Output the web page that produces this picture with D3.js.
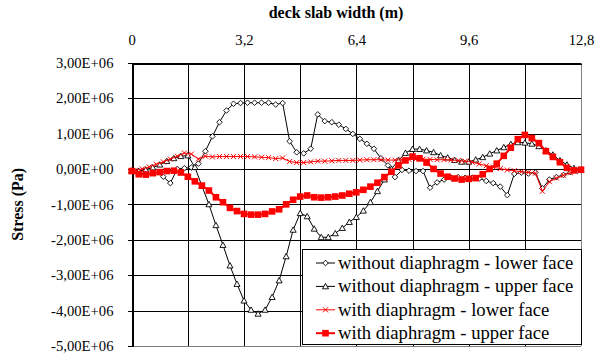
<!DOCTYPE html>
<html><head><meta charset="utf-8">
<script src="https://cdn.jsdelivr.net/npm/d3@7/dist/d3.min.js"></script>
<style>
body{margin:0;background:#fff}
svg{display:block}
</style>
</head><body>
<svg id="c" width="605" height="356"></svg>
<script>
// ---- data (stress values in units of 1E+06 Pa) ----
// upper-face nodes (every 0.2 m)
const xUpper = [0,0.2,0.4,0.6,0.8,1.0,1.2,1.4,1.6,1.8,2.0,2.2,2.4,2.6,2.8,3.0,3.2,3.4,3.6,3.8,4.0,4.2,4.4,4.6,4.8,5.0,5.2,5.4,5.6,5.8,6.0,6.2,6.4,6.6,6.8,7.0,7.2,7.4,7.6,7.8,8.0,8.2,8.4,8.6,8.8,9.0,9.2,9.4,9.6,9.8,10.0,10.2,10.4,10.6,10.8,11.0,11.2,11.4,11.6,11.8,12.0,12.2,12.4,12.6,12.8];
// lower-face nodes (offset 0.1 m)
const xLower = [0.1,0.3,0.5,0.7,0.9,1.1,1.3,1.5,1.7,1.9,2.1,2.3,2.5,2.7,2.9,3.1,3.3,3.5,3.7,3.9,4.1,4.3,4.5,4.7,4.9,5.1,5.3,5.5,5.7,5.9,6.1,6.3,6.5,6.7,6.9,7.1,7.3,7.5,7.7,7.9,8.1,8.3,8.5,8.7,8.9,9.1,9.3,9.5,9.7,9.9,10.1,10.3,10.5,10.7,10.9,11.1,11.3,11.5,11.7,11.9,12.1,12.3,12.5,12.7];

const withoutLower = [-0.07,-0.06,-0.06,-0.08,-0.22,-0.40,0.00,0.02,0.04,0.15,0.50,0.92,1.32,1.65,1.84,1.86,1.87,1.87,1.87,1.87,1.82,1.86,0.78,0.47,0.44,0.57,1.54,1.35,1.32,1.25,1.13,0.99,0.85,0.71,0.57,0.30,0.10,-0.23,-0.03,-0.05,-0.06,-0.06,-0.53,-0.38,-0.30,-0.25,-0.23,-0.25,-0.25,-0.27,-0.34,-0.40,-0.50,-0.74,-0.14,-0.10,-0.13,-0.10,-0.55,-0.30,-0.23,-0.17,-0.09,-0.05];
const withoutUpper = [-0.05,-0.06,-0.02,0.04,0.12,0.22,0.30,0.36,0.38,0.05,-0.48,-1.00,-1.59,-2.15,-2.73,-3.25,-3.72,-3.98,-4.09,-3.98,-3.62,-3.15,-2.47,-1.72,-1.25,-1.34,-1.69,-1.93,-1.93,-1.82,-1.67,-1.50,-1.36,-1.18,-0.94,-0.63,-0.30,0.00,0.24,0.45,0.56,0.56,0.52,0.47,0.38,0.32,0.25,0.20,0.20,0.26,0.33,0.43,0.52,0.61,0.70,0.75,0.74,0.71,0.64,0.52,0.40,0.24,0.12,0.02,-0.03];
const withLower = [-0.04,0.00,0.06,0.13,0.20,0.28,0.36,0.45,0.42,0.28,0.36,0.34,0.35,0.35,0.35,0.35,0.35,0.34,0.33,0.32,0.29,0.31,0.21,0.18,0.18,0.20,0.22,0.22,0.23,0.24,0.24,0.24,0.25,0.26,0.26,0.26,0.25,0.25,0.26,0.27,0.28,0.28,0.27,0.26,0.26,0.25,0.24,0.22,0.19,0.14,0.09,0.05,0.01,-0.03,-0.05,-0.08,-0.10,-0.12,-0.63,-0.36,-0.26,-0.18,-0.11,-0.05];
const withUpper = [-0.06,-0.15,-0.16,-0.12,-0.09,-0.06,-0.05,-0.10,-0.22,-0.35,-0.47,-0.61,-0.80,-0.94,-1.10,-1.19,-1.27,-1.29,-1.29,-1.27,-1.20,-1.14,-1.00,-0.87,-0.78,-0.75,-0.80,-0.81,-0.80,-0.78,-0.75,-0.70,-0.66,-0.59,-0.50,-0.39,-0.23,-0.08,0.10,0.24,0.35,0.30,0.18,0.00,-0.13,-0.22,-0.27,-0.30,-0.28,-0.26,-0.15,0.00,0.15,0.37,0.60,0.84,0.96,0.87,0.73,0.50,0.34,0.19,0.03,-0.04,-0.02];

const seriesNames = ["without diaphragm - lower face","without diaphragm - upper face","with diaphragm - lower face","with diaphragm - upper face"];
const xTickValues = [0,3.2,6.4,9.6,12.8];
const xTickLabels = ["0","3,2","6,4","9,6","12,8"];
const xGridValues = [0,1.6,3.2,4.8,6.4,8.0,9.6,11.2,12.8];
const yTickValues = [3e6,2e6,1e6,0,-1e6,-2e6,-3e6,-4e6,-5e6];
const yTickLabels = ["3,00E+06","2,00E+06","1,00E+06","0,00E+00","-1,00E+06","-2,00E+06","-3,00E+06","-4,00E+06","-5,00E+06"];
const xTitle = "deck slab width (m)";
const yTitle = "Stress (Pa)";

// ---- chart ----
const FONT = '"Liberation Serif"';
const svg = d3.select("#c");
const L = 131.7, R = 581, T = 62.7, B = 346;
const x = d3.scaleLinear().domain([0,12.8]).range([L,R]);
const y = d3.scaleLinear().domain([-5e6,3e6]).range([B,T]);
const px = v => Math.round(v) + 0.5;

svg.append("rect").attr("width",605).attr("height",356).attr("fill","#fff");

const grid = svg.append("g").attr("shape-rendering","crispEdges");
grid.selectAll("line.h").data(yTickValues).join("line")
  .attr("x1",L).attr("x2",R).attr("y1",d=>px(y(d))).attr("y2",d=>px(y(d)))
  .attr("stroke",(d,i)=> i===yTickValues.length-1 ? "#808080" : "#000").attr("stroke-width",1);
grid.selectAll("line.v").data(xGridValues).join("line")
  .attr("y1",T).attr("y2",B).attr("x1",d=>px(x(d))).attr("x2",d=>px(x(d)))
  .attr("stroke",(d,i)=> i===xGridValues.length-1 ? "#808080" : "#000").attr("stroke-width",1);

// y axis
const yAxis = d3.axisLeft(y).tickValues(yTickValues).tickSize(5).tickPadding(14)
  .tickFormat((d,i)=>yTickLabels[i]);
const gy = svg.append("g").attr("transform",`translate(${px(L)},0)`).call(yAxis);
gy.attr("font-family",null).attr("font-size",null);
gy.select(".domain").attr("stroke","#000").attr("shape-rendering","crispEdges");
gy.selectAll(".tick line").attr("stroke","#000").attr("shape-rendering","crispEdges");
gy.selectAll("text").style("font-family",FONT).style("font-size","14.67px").attr("fill","#000");

// x axis (top)
const xAxis = d3.axisTop(x).tickValues(xTickValues).tickSize(0).tickPadding(19)
  .tickFormat((d,i)=>xTickLabels[i]);
const gx = svg.append("g").attr("transform",`translate(0,${px(T)})`).call(xAxis);
gx.attr("font-family",null).attr("font-size",null);
gx.select(".domain").attr("stroke","#000").attr("shape-rendering","crispEdges");
gx.selectAll("text").style("font-family",FONT).style("font-size","14.67px").attr("fill","#000");

// titles
svg.append("text").attr("x",336).attr("y",18).attr("text-anchor","middle")
  .style("font-family",FONT).style("font-size","16px").style("font-weight","bold").attr("fill","#000").text(xTitle);
svg.append("text").attr("transform",`translate(23,${(T+B)/2}) rotate(-90)`).attr("text-anchor","middle")
  .style("font-family",FONT).style("font-size","16px").style("font-weight","bold").attr("fill","#000").text(yTitle);

// markers
const diamond = (s)=>`M0,${-s}L${s},0L0,${s}L${-s},0Z`;
const triangle = (s)=>`M0,${-s}L${s},${s*0.8}L${-s},${s*0.8}Z`;
const cross = (s)=>`M${-s},${-s}L${s},${s}M${-s},${s}L${s},${-s}`;
const square = (s)=>`M${-s},${-s}H${s}V${s}H${-s}Z`;

const series = [
  {name:seriesNames[0], xs:xLower, ys:withoutLower, color:"#000", lw:1, mark:diamond(2.8), fill:"#fff", mw:0.9},
  {name:seriesNames[1], xs:xUpper, ys:withoutUpper, color:"#000", lw:1, mark:triangle(3), fill:"#fff", mw:0.9},
  {name:seriesNames[2], xs:xLower, ys:withLower, color:"#ff0000", lw:1, mark:cross(2.5), fill:"none", mw:1},
  {name:seriesNames[3], xs:xUpper, ys:withUpper, color:"#ff0000", lw:2, mark:square(3.3), fill:"#ff0000", mw:0},
];

const line = d3.line().x(d=>x(d[0])).y(d=>y(d[1]*1e6));
const plot = svg.append("g");
series.forEach(s=>{
  const pts = s.xs.map((xv,i)=>[xv,s.ys[i]]);
  const g = plot.append("g");
  g.append("path").attr("d",line(pts)).attr("fill","none").attr("stroke",s.color).attr("stroke-width",s.lw);
  g.selectAll("path.m").data(pts).join("path").attr("class","m")
    .attr("transform",d=>`translate(${x(d[0])},${y(d[1]*1e6)})`)
    .attr("d",s.mark).attr("fill",s.fill).attr("stroke",s.mw?s.color:"none").attr("stroke-width",s.mw);
});

// legend
const lg = svg.append("g");
lg.append("rect").attr("x",302.5).attr("y",249.5).attr("width",279).attr("height",95)
  .attr("fill","#fff").attr("stroke","#000").attr("stroke-width",1).attr("shape-rendering","crispEdges");
series.forEach((s,i)=>{
  const cy = 263 + i*23.4;
  lg.append("line").attr("x1",316).attr("x2",335).attr("y1",cy).attr("y2",cy).attr("stroke",s.color).attr("stroke-width",s.lw);
  lg.append("path").attr("transform",`translate(325.5,${cy})`).attr("d",s.mark).attr("fill",s.fill)
    .attr("stroke",s.mw?s.color:"none").attr("stroke-width",s.mw);
  lg.append("text").attr("x",338).attr("y",cy+6).style("font-family",FONT).style("font-size","18.67px").attr("fill","#000").text(s.name);
});
</script>
</body></html>
